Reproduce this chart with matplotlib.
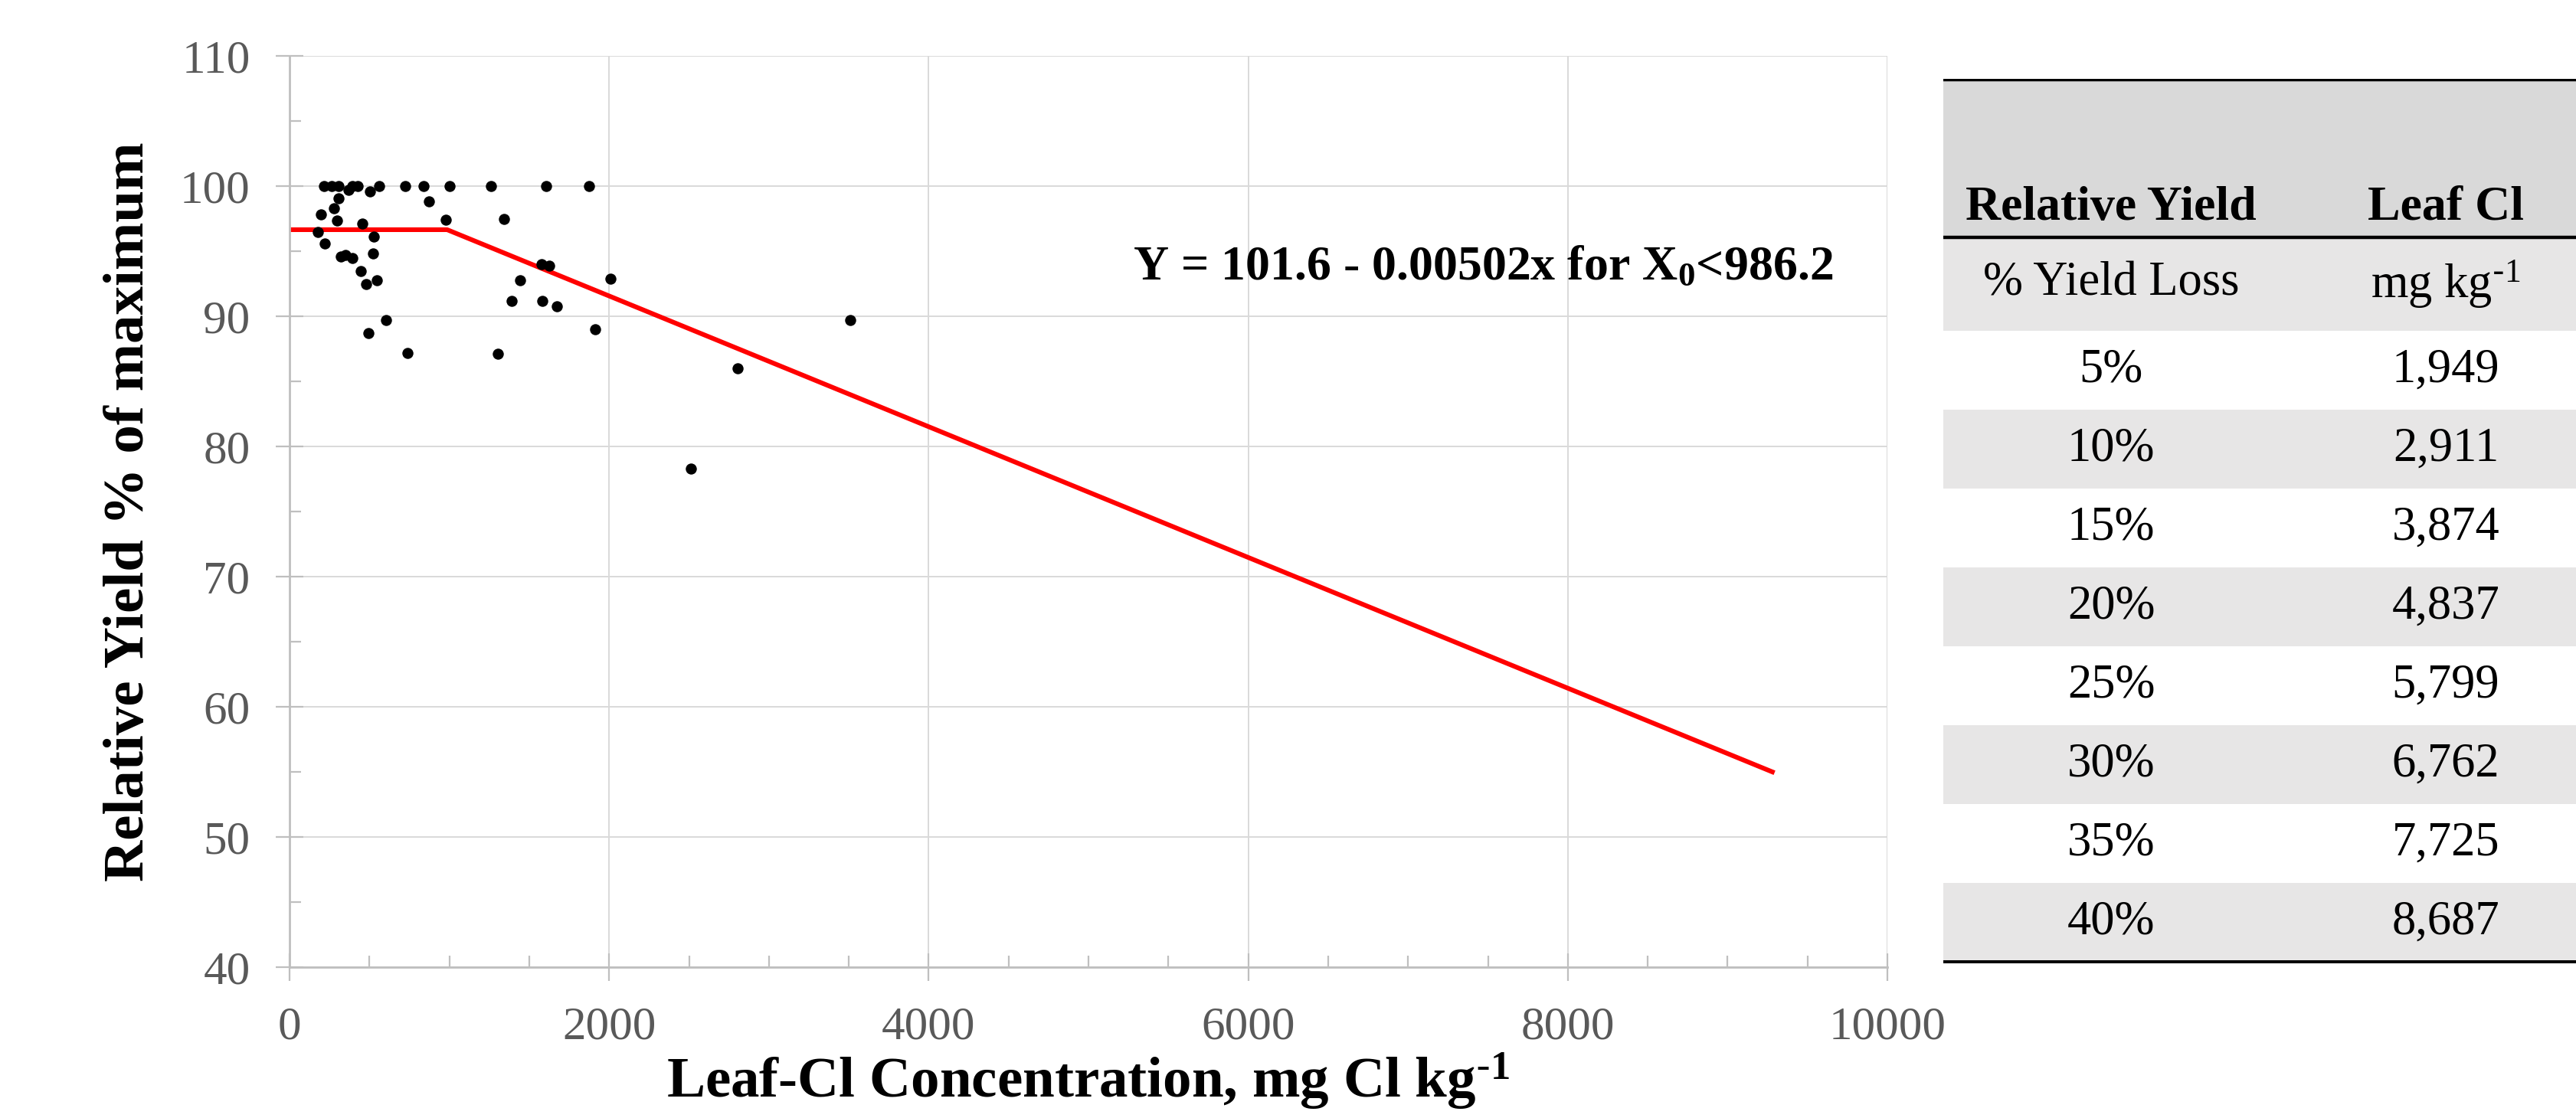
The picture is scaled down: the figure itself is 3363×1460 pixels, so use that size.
import matplotlib
matplotlib.use("Agg")
import matplotlib.pyplot as plt
from matplotlib.patches import Rectangle
from matplotlib.ticker import MultipleLocator

plt.rcParams['font.family'] = ['Liberation Serif', 'DejaVu Serif']
plt.rcParams['mathtext.default'] = 'regular'

# scatter: leaf Cl (mg/kg) vs relative yield (%)
leaf_cl = [215, 264, 305, 369, 393, 425, 503, 562, 725, 838, 1001, 1262, 1607, 1873,
           308, 276, 874, 198, 295, 457, 979, 1341, 178, 220, 525, 523, 320, 349,
           391, 444, 481, 547, 1575, 1626, 1443, 2007, 1392, 1580, 1673, 606, 493,
           1915, 740, 1306, 2803, 3509, 2514]
rel_yield = [100, 100, 100, 99.7, 100, 100, 99.6, 100, 100, 100, 100, 100, 100, 100,
             99.06, 98.3, 98.8, 97.8, 97.35, 97.1, 97.4, 97.45, 96.45, 95.6, 96.1, 94.8, 94.6, 94.7,
             94.5, 93.5, 92.45, 92.75, 94.0, 93.9, 92.75, 92.9, 91.2, 91.2, 90.75, 89.7, 88.7,
             89.0, 87.2, 87.1, 86.0, 89.7, 78.3]

# segmented fit (plateau then linear decline)
fit_x = [0, 986.2, 9280]
fit_y = [96.65, 96.65, 55.0]

# table values
loss_pct = ['5%', '10%', '15%', '20%', '25%', '30%', '35%', '40%']
cl_at_loss = ['1,949', '2,911', '3,874', '4,837', '5,799', '6,762', '7,725', '8,687']

W, H, DPI = 3363, 1460, 200
fig = plt.figure(figsize=(W / DPI, H / DPI), dpi=DPI, facecolor='white')
ax = fig.add_axes([378 / W, 1 - 1263 / H, (2464 - 378) / W, (1263 - 73) / H])

ax.set_xlim(0, 10000)
ax.set_ylim(40, 110)
ax.xaxis.set_major_locator(MultipleLocator(2000))
ax.xaxis.set_minor_locator(MultipleLocator(500))
ax.yaxis.set_major_locator(MultipleLocator(10))
ax.yaxis.set_minor_locator(MultipleLocator(5))
ax.grid(True, which='major', color='#d9d9d9', lw=0.7, zorder=0)
ax.set_axisbelow(True)
for s in ['top', 'right']:
    ax.spines[s].set_visible(False)
for s in ['left', 'bottom']:
    ax.spines[s].set_color('#bfbfbf')
    ax.spines[s].set_linewidth(1.0)
ax.tick_params(which='major', direction='inout', length=13, width=0.8, color='#bfbfbf',
               labelsize=22, labelcolor='#595959', pad=12)
ax.tick_params(which='minor', direction='in', length=5.4, width=0.8, color='#bfbfbf')

ax.plot(fit_x, fit_y, color='#ff0000', lw=2.2, zorder=2)
ax.plot(leaf_cl, rel_yield, 'o', color='black', ms=5.2, mew=0, zorder=3)

ax.text(9660, 93.7, 'Y = 101.6 - 0.00502x for X$_0$<986.2', ha='right', va='center',
        fontsize=23, fontweight='bold')

ax.set_ylabel('Relative Yield % of maximum', fontsize=27, fontweight='bold')
ax.yaxis.set_label_coords(-0.084, 0.5)
ax.set_xlabel(r'Leaf-Cl Concentration, mg Cl kg$^{\text{-}1}$', fontsize=27, fontweight='bold')
ax.xaxis.set_label_coords(0.5, -0.092)

# table on the right, laid out in pixel units
tx0, tx1, ttop, tbot = 2537, 3411, 103, 1258
tab = fig.add_axes([tx0 / W, 1 - tbot / H, (tx1 - tx0) / W, (tbot - ttop) / H])
tab.set_xlim(0, tx1 - tx0)
tab.set_ylim(tbot, ttop)
tab.axis('off')
tw = tx1 - tx0
col_x = [219, 656]
hdr_bot, sub_bot, row_h = 310, 432, 103

tab.add_patch(Rectangle((0, ttop), tw, hdr_bot - ttop, color='#d9d9d9', lw=0))
tab.add_patch(Rectangle((0, hdr_bot), tw, sub_bot - hdr_bot, color='#e7e6e6', lw=0))
for i in range(len(loss_pct)):
    top = sub_bot + i * row_h
    if i % 2 == 1:
        tab.add_patch(Rectangle((0, top), tw, row_h, color='#e7e6e6', lw=0))
    tab.text(col_x[0], top + row_h / 2, loss_pct[i], ha='center', va='center', fontsize=22.5)
    tab.text(col_x[1], top + row_h / 2, cl_at_loss[i], ha='center', va='center', fontsize=22.5)

tab.text(col_x[0], 287, 'Relative Yield', ha='center', va='baseline', fontsize=23, fontweight='bold')
tab.text(col_x[1], 287, 'Leaf Cl', ha='center', va='baseline', fontsize=23, fontweight='bold')
tab.text(col_x[0], (hdr_bot + sub_bot) / 2, '% Yield Loss', ha='center', va='center', fontsize=22.5)
tab.text(col_x[1], (hdr_bot + sub_bot) / 2, r'mg kg$^{\text{-}1}$', ha='center', va='center', fontsize=22.5)

tab.axhline(ttop + 1, color='black', lw=1.6)
tab.axhline(hdr_bot, color='black', lw=1.6)
tab.axhline(tbot - 2, color='black', lw=1.8)

fig.savefig('out.png', dpi=DPI)
